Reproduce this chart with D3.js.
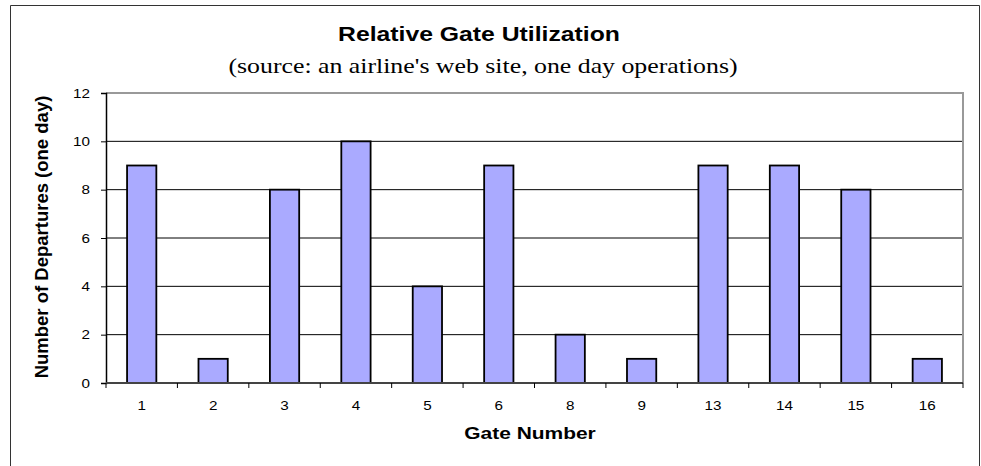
<!DOCTYPE html>
<html>
<head>
<meta charset="utf-8">
<script src="https://cdn.jsdelivr.net/npm/d3@7"></script>
<style>
  body { margin: 0; background: #fff; }
  svg { display: block; }
</style>
</head>
<body>
<div id="chart"></div>
<script>
// gate numbers and departures
const gates = ["1", "2", "3", "4", "5", "6", "8", "9", "13", "14", "15", "16"];
const departures = [9, 1, 8, 10, 4, 9, 2, 1, 9, 9, 8, 1];
const yTicks = [0, 2, 4, 6, 8, 10, 12];

const width = 981, height = 466;
const plot = { left: 106, right: 963, top: 93, bottom: 383 };
// the original picture is stretched sideways, text with it
const stretch = 1.27;
const sans = "Arial, 'Liberation Sans', sans-serif";

const svg = d3.select("#chart").append("svg")
    .attr("width", width)
    .attr("height", height);

// put a (horizontally stretched) text at (x, y)
function label(x, y, str, size, opts = {}) {
    const sx = opts.sx !== undefined ? opts.sx : stretch;
    return svg.append("text")
        .attr("transform", `translate(${x},${y}) scale(${sx},1)` + (opts.rotate ? ` rotate(${opts.rotate})` : ""))
        .attr("text-anchor", opts.anchor || "middle")
        .attr("font-family", opts.family || sans)
        .attr("font-weight", opts.weight || "normal")
        .attr("font-size", size)
        .attr("fill", "#000")
        .text(str);
}

// outer chart frame (bottom runs off the picture)
svg.append("path")
    .attr("d", `M10.5,${height + 2}V5.5H979.5V${height + 2}`)
    .attr("fill", "none")
    .attr("stroke", "#333")
    .attr("stroke-width", 1);

const x = d3.scaleBand()
    .domain(gates)
    .range([plot.left, plot.right])
    .paddingInner(0.59)
    .paddingOuter(0.295);

const xOuter = d3.scaleBand()
    .domain(gates)
    .range([plot.left, plot.right]);

const y = d3.scaleLinear()
    .domain([0, 12])
    .range([plot.bottom, plot.top]);

// gridlines
svg.append("g")
    .selectAll("line")
    .data(yTicks.filter(d => d > 0 && d < 12))
    .enter().append("line")
    .attr("x1", plot.left)
    .attr("x2", plot.right)
    .attr("y1", d => y(d))
    .attr("y2", d => y(d))
    .attr("stroke", "#000")
    .attr("stroke-width", 1);

// plot frame top and right, grey
svg.append("path")
    .attr("d", `M${plot.left},${plot.top}H${plot.right}V${plot.bottom}`)
    .attr("fill", "none")
    .attr("stroke", "#999")
    .attr("stroke-width", 2);

// bars
svg.append("g")
    .selectAll("rect")
    .data(departures)
    .enter().append("rect")
    .attr("x", (d, i) => x(gates[i]))
    .attr("y", d => y(d))
    .attr("width", x.bandwidth())
    .attr("height", d => y(0) - y(d))
    .attr("fill", "#aaaaff")
    .attr("stroke", "#000")
    .attr("stroke-width", 1.8);

// y axis
const yAxis = svg.append("g")
    .attr("transform", `translate(${plot.left},0)`)
    .call(d3.axisLeft(y).tickValues(yTicks).tickSize(5));
yAxis.select(".domain").attr("stroke", "#000").attr("stroke-width", 1.5);
yAxis.selectAll(".tick line").attr("stroke", "#000");
yAxis.selectAll("text")
    .attr("x", null)
    .attr("dy", "0.35em")
    .attr("transform", `translate(-16,0) scale(${stretch},1)`)
    .attr("font-family", sans)
    .attr("font-size", 12)
    .attr("fill", "#000");

// x axis: ticks at category boundaries
const xg = svg.append("g");
xg.append("line")
    .attr("x1", plot.left).attr("x2", plot.right)
    .attr("y1", plot.bottom).attr("y2", plot.bottom)
    .attr("stroke", "#444").attr("stroke-width", 2);
const bounds = gates.map(g => xOuter(g)).concat([plot.right]);
xg.selectAll(".xt")
    .data(bounds)
    .enter().append("line")
    .attr("class", "xt")
    .attr("x1", d => d).attr("x2", d => d)
    .attr("y1", plot.bottom).attr("y2", plot.bottom + 5)
    .attr("stroke", "#000");
gates.forEach(g => label(xOuter(g) + xOuter.bandwidth() / 2, 410, g, 12));

// titles
label(479, 41, "Relative Gate Utilization", 19.5, { weight: "bold" });
label(483, 73, "(source: an airline's web site, one day operations)", 21,
    { family: "'Times New Roman', 'Liberation Serif', serif", sx: 1.23 });
label(530, 439, "Gate Number", 16.5, { weight: "bold" });
label(48, 237, "Number of Departures (one day)", 18.5,
    { weight: "bold", rotate: -90, sx: 1 });
</script>
</body>
</html>
